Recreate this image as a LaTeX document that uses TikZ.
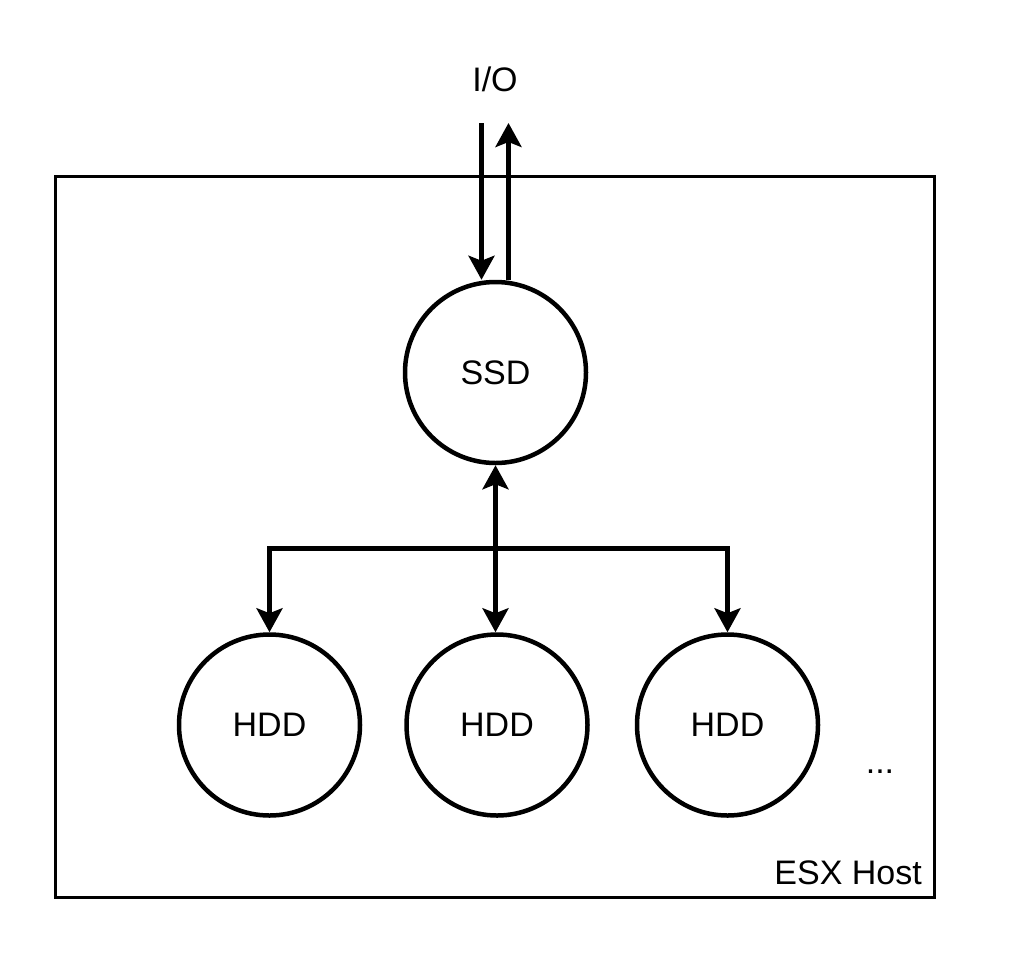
\documentclass[tikz,border=0pt]{standalone}
\usepackage{fontspec}
\setmainfont{Liberation Sans}
\usetikzlibrary{arrows.meta}
\begin{document}
\begin{tikzpicture}[x=1pt,y=-1pt,
  disk/.style={draw,line width=4.5pt,circle,minimum size=181pt,inner sep=0pt,font=\fontsize{34}{40}\selectfont},
  lbl/.style={font=\fontsize{34}{40}\selectfont,inner sep=0pt},
  conn/.style={line width=4.5pt,-{Stealth[length=24pt,width=26pt,inset=5pt]}},
  biconn/.style={line width=4.5pt,{Stealth[length=24pt,width=26pt,inset=5pt]}-{Stealth[length=24pt,width=26pt,inset=5pt]}}]
\useasboundingbox (0,0) rectangle (1024,954);
\node[draw,line width=3pt,minimum width=879pt,minimum height=721pt,inner sep=0pt] (host) at (494.5,537) {};
\node[lbl,anchor=base east] (hostlbl) at (922,884) {ESX Host};
\node[disk] (ssd) at (495.5,372.5) {SSD};
\node[disk] (hdd1) at (269.5,725) {HDD};
\node[disk] (hdd2) at (497,725) {HDD};
\node[disk] (hdd3) at (727.5,725) {HDD};
\node[lbl] (io) at (495,79) {I/O};
\node[lbl] (dots) at (880,772) {...};
\coordinate (inTop) at (481.5,123);
\coordinate (outTop) at (508.5,123);
\coordinate (junc) at (495.5,548.5);
\draw[conn] (inTop) -- (inTop |- ssd.north);
\draw[conn] (outTop |- ssd.north) -- (outTop);
\draw[biconn] (ssd.south) -- (ssd.south |- hdd2.north);
\draw[conn] (junc) -| (hdd1.north);
\draw[conn] (junc) -| (hdd3.north);
\end{tikzpicture}
\end{document}
